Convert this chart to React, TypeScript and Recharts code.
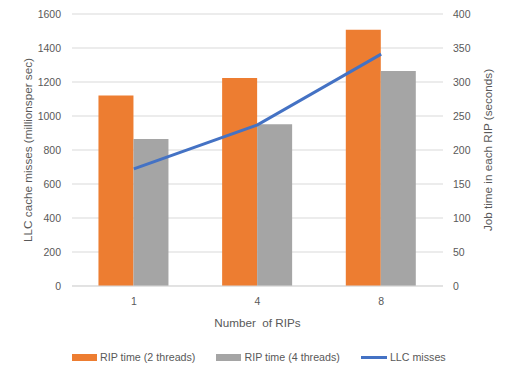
import React from 'react';
import { ComposedChart, Bar, Line, XAxis, YAxis, CartesianGrid, Legend } from 'recharts';

const categories = ['1', '4', '8'];
const ripTime2Threads = [280, 306, 377];
const ripTime4Threads = [216, 238, 316];
const llcMisses = [689, 948, 1364];
const leftTicks = [0, 200, 400, 600, 800, 1000, 1200, 1400, 1600];
const rightTicks = [0, 50, 100, 150, 200, 250, 300, 350, 400];
const seriesNames = ['RIP time (2 threads)', 'RIP time (4 threads)', 'LLC misses'];

const data = categories.map((c, i) => ({
  name: c,
  t2: ripTime2Threads[i],
  t4: ripTime4Threads[i],
  llc: llcMisses[i],
}));

const FONT = '"Liberation Sans", Arial, sans-serif';
const TXT = '#595959';
const GRID = '#d9d9d9';

const tickStyle = { fill: TXT, fontSize: 10.5, fontFamily: FONT };

const renderLegend = (props: any) => {
  const payload = [...(props.payload || [])].sort(
    (a: any, b: any) => seriesNames.indexOf(a.value) - seriesNames.indexOf(b.value)
  );
  return (
    <div
      style={{
        display: 'flex',
        justifyContent: 'flex-start',
        alignItems: 'center',
        paddingLeft: 72,
        height: 18,
        fontFamily: FONT,
        fontSize: 10.7,
        color: TXT,
      }}
    >
      {payload.map((entry: any, i: number) => (
        <div key={i} style={{ display: 'flex', alignItems: 'center', marginRight: 21 }}>
          {entry.type === 'line' ? (
            <div style={{ width: 26, height: 3, background: entry.color, marginRight: 3 }} />
          ) : (
            <div style={{ width: 25, height: 7, background: entry.color, marginRight: 3 }} />
          )}
          <span style={{ whiteSpace: 'nowrap' }}>{entry.value}</span>
        </div>
      ))}
    </div>
  );
};

const LeftTitle = (props: any) => {
  const vb = props.viewBox || {};
  const x = vb.x + 27;
  const y = vb.y + vb.height / 2;
  return (
    <text
      x={x}
      y={y}
      transform={`rotate(-90 ${x} ${y})`}
      textAnchor="middle"
      dominantBaseline="central"
      fill={TXT}
      fontSize={11.7}
      fontFamily={FONT}
    >
      LLC cache misses (millionsper sec)
    </text>
  );
};

const RightTitle = (props: any) => {
  const vb = props.viewBox || {};
  const x = vb.x + 44;
  const y = vb.y + vb.height / 2;
  return (
    <text
      x={x}
      y={y}
      transform={`rotate(-90 ${x} ${y})`}
      textAnchor="middle"
      dominantBaseline="central"
      fill={TXT}
      fontSize={11.7}
      fontFamily={FONT}
    >
      Job time in each RIP (seconds)
    </text>
  );
};

export default function App() {
  return (
    <div style={{ margin: -8, position: 'relative', width: 510, height: 377, fontFamily: FONT, background: '#fff' }}>
      <ComposedChart
        width={510}
        height={377}
        data={data}
        margin={{ top: 14, right: 0, bottom: 46, left: 0 }}
        barCategoryGap="21.4%"
        barGap={0}
      >
        <CartesianGrid vertical={false} stroke={GRID} yAxisId="left" />
        <XAxis
          dataKey="name"
          tickLine={false}
          tickSize={0}
          tickMargin={12}
          axisLine={{ stroke: GRID }}
          tick={tickStyle}
          height={45}
          label={{
            value: 'Number\u00a0 of RIPs',
            position: 'insideBottom',
            offset: 4,
            fill: TXT,
            fontSize: 11.7,
            fontFamily: FONT,
          }}
        />
        <YAxis
          yAxisId="left"
          orientation="left"
          width={72}
          domain={[0, 1600]}
          ticks={leftTicks}
          tickLine={false}
          axisLine={false}
          tickSize={0}
          tickMargin={11}
          tick={tickStyle}
          label={{ content: LeftTitle }}
        />
        <YAxis
          yAxisId="right"
          orientation="right"
          width={67}
          domain={[0, 400]}
          ticks={rightTicks}
          tickLine={false}
          axisLine={false}
          tickSize={0}
          tickMargin={10}
          tick={{ ...tickStyle, textAnchor: 'start' }}
          label={{ content: RightTitle }}
        />
        <Legend
          layout="horizontal"
          verticalAlign="middle"
          align="center"
          wrapperStyle={{ top: 348, left: 0, width: 510 }}
          content={renderLegend}
        />
        <Bar yAxisId="right" dataKey="t2" name={seriesNames[0]} fill="#ed7d31" isAnimationActive={false} />
        <Bar yAxisId="right" dataKey="t4" name={seriesNames[1]} fill="#a5a5a5" isAnimationActive={false} />
        <Line
          yAxisId="left"
          type="linear"
          dataKey="llc"
          name={seriesNames[2]}
          stroke="#4472c4"
          strokeWidth={3}
          dot={false}
          activeDot={false}
          isAnimationActive={false}
        />
      </ComposedChart>
      <div
        style={{
          position: 'absolute',
          left: 0,
          top: 0,
          width: 510,
          height: 377,
          boxSizing: 'border-box',
          border: `1px solid ${GRID}`,
          pointerEvents: 'none',
        }}
      />
    </div>
  );
}
